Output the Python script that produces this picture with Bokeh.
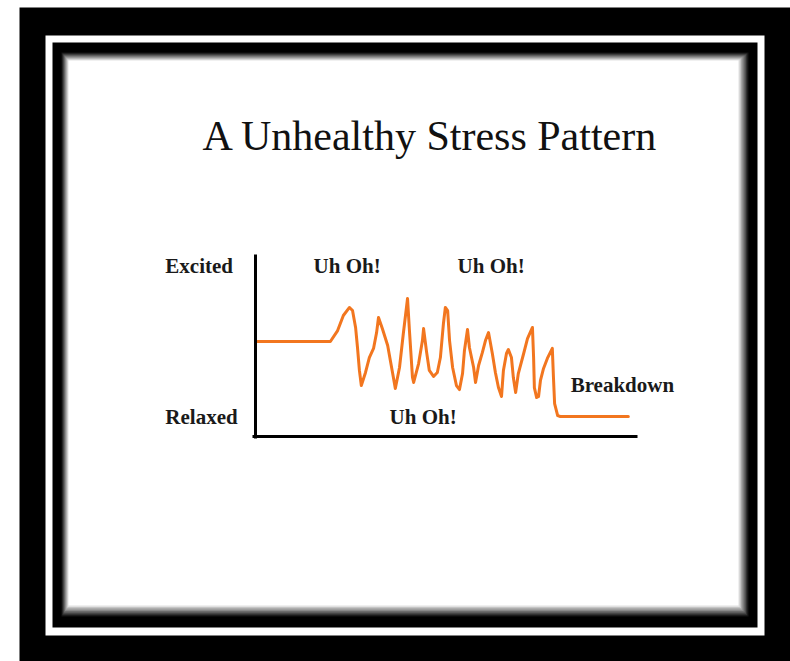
from bokeh.plotting import figure
from bokeh.models import Range1d, LinearAxis, FixedTicker
from bokeh.core.properties import value
from bokeh.embed import file_html
from bokeh.resources import INLINE

# ---------------- data ----------------
title_text = "A Unhealthy Stress Pattern"
y_labels = ["Excited", "Relaxed"]
y_label_t = [-23.6, -23.6]
y_label_level = [93.7, 10.7]
# time (0-100 along the x axis) and stress level (0 = relaxed, 100 = excited)
t = [0.5, 19.6, 21.5, 23.0, 24.6, 25.4, 26.2, 26.7, 27.2, 27.7,
     28.8, 29.8, 30.9, 31.7, 32.2, 33.2, 34.6, 35.3, 36.1, 36.6,
     37.7, 38.7, 39.8, 40.3, 41.1, 41.4, 42.7, 43.7, 44.0, 44.8,
     45.5, 46.6, 47.6, 48.4, 49.2, 49.7, 50.3, 50.8, 51.6, 52.6,
     53.4, 54.2, 54.7, 55.5, 56.0, 57.1, 57.6, 58.4, 59.4, 60.2,
     61.0, 62.0, 62.8, 63.6, 64.4, 64.9, 65.7, 66.2, 67.0, 67.5,
     68.1, 68.8, 70.2, 71.2, 72.5, 72.8, 73.0, 73.6, 74.1, 74.6,
     75.4, 76.4, 77.7, 78.0, 78.3, 79.1, 79.8, 97.6]
level = [52.2, 52.2, 58.2, 66.5, 70.9, 69.2, 59.9, 48.9, 36.3, 28.0,
         35.2, 43.4, 48.4, 57.1, 65.4, 59.3, 50.0, 41.8, 32.4, 26.4,
         37.9, 56.6, 75.8, 58.2, 32.4, 29.7, 40.1, 52.7, 59.3, 46.2,
         36.3, 33.0, 35.2, 43.4, 62.1, 70.9, 69.2, 52.7, 37.9, 28.0,
         25.8, 34.6, 47.3, 58.8, 48.9, 37.9, 29.7, 39.0, 46.2, 52.7,
         57.1, 45.6, 35.2, 26.9, 22.0, 36.3, 45.6, 47.8, 43.4, 32.4,
         24.2, 34.6, 45.6, 53.8, 59.9, 43.4, 26.9, 21.4, 22.0, 30.8,
         37.4, 42.9, 48.4, 32.4, 18.1, 11.5, 11.0, 11.0]
notes = ["Uh Oh!", "Uh Oh!", "Uh Oh!", "Breakdown"]
note_t = [15.2, 52.9, 35.1, 82.5]
note_level = [93.7, 93.7, 10.7, 28.3]

# ---------------- layout ----------------
W, H = 790, 661
AX_X0, AX_Y0 = 255.0, 436.0       # pixel position of (t=0, level=0)
PX_T, PX_L = 3.82, 1.82           # pixels per data unit

x_rng = Range1d(-AX_X0 / PX_T, (W - AX_X0) / PX_T)
y_rng = Range1d(-(H - AX_Y0) / PX_L, AX_Y0 / PX_L)

p = figure(width=W, height=H, x_range=x_rng, y_range=y_rng,
           x_axis_type=None, y_axis_type=None, toolbar_location=None,
           output_backend="svg", min_border=0,
           background_fill_color="white", border_fill_color="white",
           outline_line_color=None)
p.xgrid.visible = False
p.ygrid.visible = False
p.extra_x_ranges = {"px": Range1d(0, W)}
p.extra_y_ranges = {"px": Range1d(H, 0)}

# picture frame (in pixel space)
def box(l, tp, r, b, color):
    p.quad(left=[l], right=[r], top=[tp], bottom=[b], fill_color=color,
           line_color=None, x_range_name="px", y_range_name="px")

box(19, 7, W, H, "black")
box(45, 35, 764, 635, "white")
box(52, 42, 757, 627, "black")
steps = 8
for i in range(steps + 1):
    f = i / steps
    l = 61 + (68 - 61) * f
    tp = 52 + (60 - 52) * f
    r = 748 + (738 - 748) * f
    b = 616 + (605 - 616) * f
    g = int(20 + (255 - 20) * f)
    box(l, tp, r, b, "#%02x%02x%02x" % (g, g, g))

# axes
axis_style = dict(ticker=FixedTicker(ticks=[]), axis_line_width=3,
                  axis_line_color="black", major_tick_line_color=None,
                  minor_tick_line_color=None, major_label_text_font_size="0px")
yax = LinearAxis(fixed_location=0, bounds=(-1, 100), **axis_style)
xax = LinearAxis(fixed_location=0, bounds=(-0.8, 100), **axis_style)
p.add_layout(yax, "left")
p.add_layout(xax, "below")

# curve
p.line(t, level, line_color="#F2761F", line_width=3, line_join="round", line_cap="round")

# labels
serif = value("Liberation Serif")
p.text(x=y_label_t, y=y_label_level, text=y_labels, text_font=serif,
       text_font_size="21px", text_font_style="bold", text_color="#1a1a1a",
       text_baseline="middle", text_align="left")
p.text(x=note_t, y=note_level, text=notes, text_font=serif,
       text_font_size="21px", text_font_style="bold", text_color="#1a1a1a",
       text_baseline="middle", text_align="left")
p.text(x=[430], y=[135], text=[title_text], text_font=serif,
       text_font_size="42px", text_color="#111111",
       text_baseline="middle", text_align="center",
       x_range_name="px", y_range_name="px")

open("out.html", "w").write(file_html(p, INLINE))
